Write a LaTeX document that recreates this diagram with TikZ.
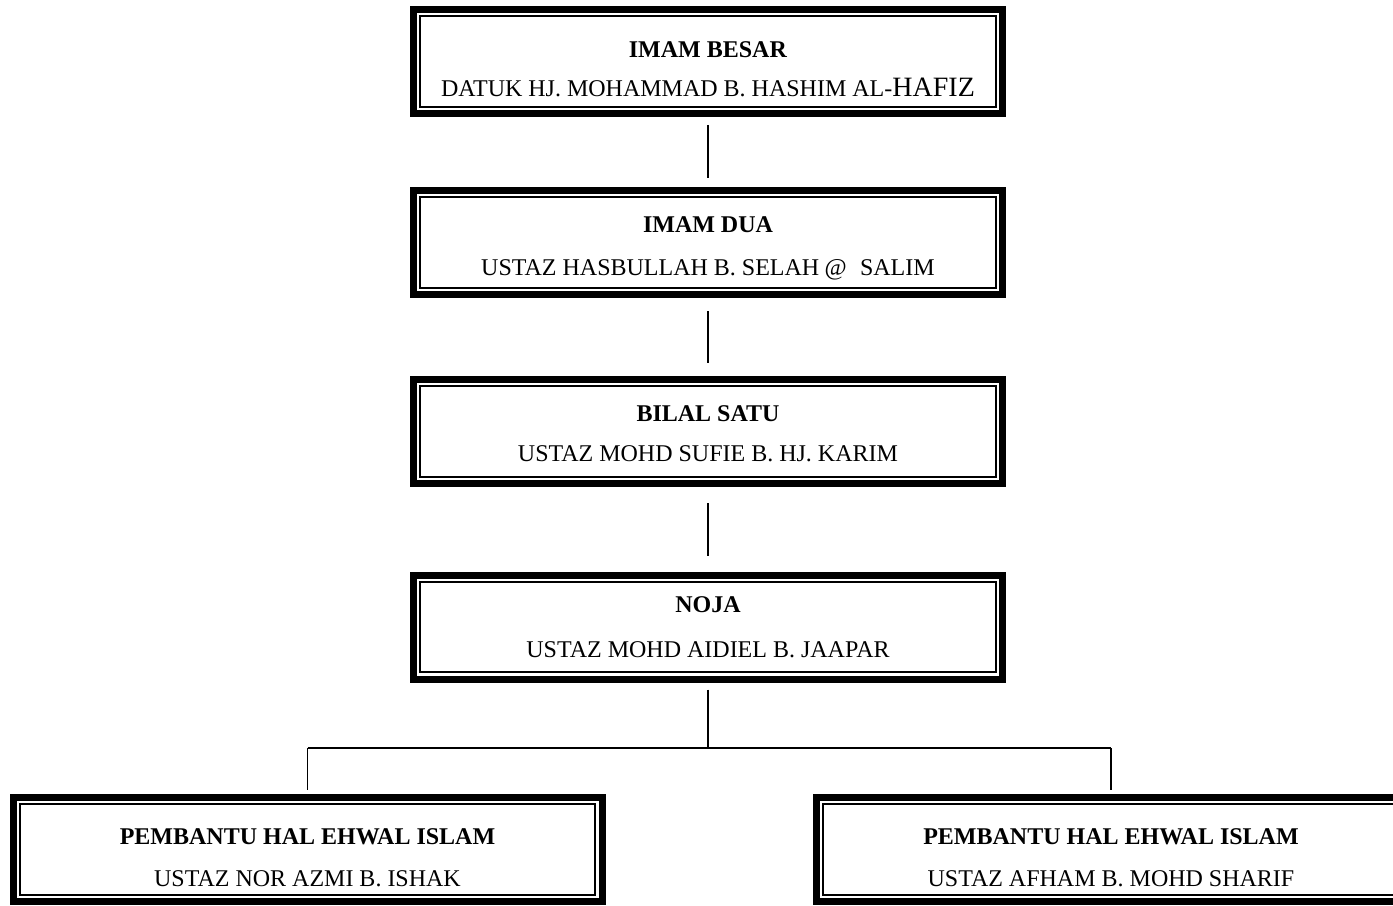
\documentclass[tikz,border=0pt]{standalone}
\usepackage{fontspec}
\setmainfont{Liberation Serif}
\newcommand{\turun}[1]{\rule{0pt}{#1}}

\tikzset{
  jawatan/.style={draw, line width=5.25pt, minimum width=441.75pt, minimum height=78pt,
    inner sep=0pt, align=center, font=\fontsize{18}{21.6}\selectfont,
    path picture={\draw[line width=1.6pt]
      ([shift={(5.1pt,-5.1pt)}]path picture bounding box.north west) rectangle
      ([shift={(-5.1pt,5.1pt)}]path picture bounding box.south east);}},
  garis/.style={line width=1.1pt}
}

\begin{document}
\begin{tikzpicture}[x=0.75pt, y=-0.75pt]
	%%%%% START %%%%%
	\useasboundingbox (0,0) rectangle (1393,906);
	
	\node[jawatan] (imambesar) at (708,61.5) {\turun{23.5pt}\textbf{IMAM BESAR}\\[7pt]
		DATUK HJ. MOHAMMAD B. HASHIM AL-{\fontsize{21}{21}\selectfont HAFIZ}};
	\node[jawatan] (imamdua) at (708,242.5) {\turun{21pt}\textbf{IMAM DUA}\\[11pt]
		USTAZ HASBULLAH B. SELAH\hspace{4pt}@\hspace{10pt}SALIM};
	\node[jawatan] (bilalsatu) at (708,431.5) {\turun{15pt}\textbf{BILAL SATU}\\[8pt]
		USTAZ MOHD SUFIE B. HJ. KARIM};
	\node[jawatan] (noja) at (708,627) {\textbf{NOJA}\\[12pt]
		USTAZ MOHD AIDIEL B. JAAPAR};
	
	\node[jawatan] (pembantua) at (307.5,849.5) {\turun{24pt}\textbf{PEMBANTU HAL EHWAL ISLAM}\\[10pt]
		USTAZ NOR AZMI B. ISHAK};
	\node[jawatan] (pembantub) at (1111,849.5) {\turun{24pt}\textbf{PEMBANTU HAL EHWAL ISLAM}\\[10pt]
		USTAZ AFHAM B. MOHD SHARIF};
	
	\draw[garis, shorten <=6pt, shorten >=6.75pt] (imambesar) -- (imamdua);
	\draw[garis, shorten <=9.75pt, shorten >=9.75pt] (imamdua) -- (bilalsatu);
	\draw[garis, shorten <=12pt, shorten >=12pt] (bilalsatu) -- (noja);
	
	\coordinate (cabang) at (708,748);
	\draw[garis, shorten <=5.25pt] (noja) -- (cabang);
	\draw[garis] (cabang -| pembantua) -- (cabang -| pembantub);
	\draw[garis, shorten >=3pt] (cabang -| pembantua) -- (pembantua);
	\draw[garis, shorten >=3pt] (cabang -| pembantub) -- (pembantub);
	
	%%%%% END %%%%%
\end{tikzpicture}
\end{document}
